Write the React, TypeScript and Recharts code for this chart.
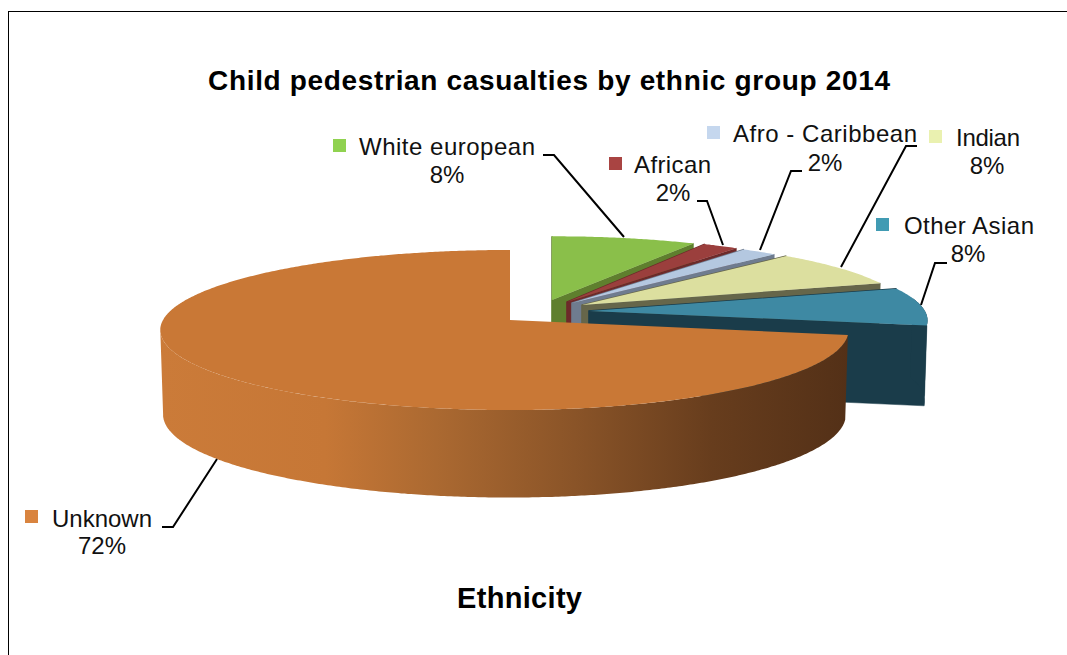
import { Pie, PieChart } from "recharts";

const categories = ["White european", "African", "Afro - Caribbean", "Indian", "Other Asian", "Unknown"];
const shares = [8, 2, 2, 8, 8, 72];

const topColors = ["#8abf4a", "#9b3f3d", "#b4c8e0", "#dcdf9f", "#3e89a3", "#c97836"];
const wallColors = ["#5f7f2e", "#6d2a2a", "#6f7c8f", "#66664a", "#1a3c4a", "url(#unknownWall)"];
const keyColors = ["#90d250", "#a94442", "#c5d7ee", "#eaf1b0", "#419bb3", "#d9843f"];

// how far each wedge is pulled out of the pie, and how much it shrinks towards the back
const wedges = [
  { dx: 42, dy: -20, sx: 0.97, sy: 0.91 },
  { dx: 57, dy: -18, sx: 0.945, sy: 0.93 },
  { dx: 62, dy: -17, sx: 0.96, sy: 0.925 },
  { dx: 72, dy: -15, sx: 0.97, sy: 0.93 },
  { dx: 79, dy: -9, sx: 1, sy: 0.95 },
  { dx: 0, dy: 0, sx: 1, sy: 1 },
];

// label placement: colour key, name (with its drawn width), percentage and leader line
const labels = [
  { key: [333, 139], name: [359, 155], width: 176, pct: [447, 183], leader: "543,155 554,155 624,237" },
  { key: [609, 157], name: [634, 173], width: 77, pct: [673, 201], leader: "697,201 707,201 723,245" },
  { key: [707, 126], name: [733, 142], width: 184, pct: [825, 171], leader: "802,171 791,171 760,250" },
  { key: [929, 130], name: [956, 146], width: 64, pct: [987, 174], leader: "917,146 906,146 841,267" },
  { key: [876, 218], name: [904, 234], width: 130, pct: [968, 262], leader: "947,263 935,263 921,305" },
  { key: [25, 510], name: [52, 527], width: 100, pct: [102, 554], leader: "162,527 173,527 217,459" },
];

const data = categories.map((name, i) => ({ name, value: shares[i], fill: topColors[i] }));

const FONT = '"Liberation Sans", Arial, sans-serif';
const TILT = 0.227; // vertical squash of the disc
const PERSPECTIVE = 0.125;
const RIGHT_SIDE = 0.968; // the right half sits a bit narrower than the left
const DEPTH = 84;
const BOTTOM_RIM = 0.992;

function WedgeShape(props: any) {
  const { cx, cy, outerRadius, startAngle, endAngle, index, fill } = props;
  const w = wedges[index];
  const ox = cx + w.dx;
  const oy = cy + w.dy;
  const depth = DEPTH * w.sy;

  // angle is degrees clockwise from 12 o'clock
  const rim = (deg: number, bottom = false) => {
    const t = (deg * Math.PI) / 180;
    const u = Math.sin(t);
    const v = Math.cos(t);
    const s = 1 / (1 + PERSPECTIVE * v);
    const side = u > 0 ? RIGHT_SIDE : 1;
    const x = outerRadius * u * s * side * w.sx;
    const y = -outerRadius * TILT * v * s * w.sy;
    return bottom ? [ox + x * BOTTOM_RIM, oy + y + depth - 3.5 * v] : [ox + x, oy + y];
  };

  const from = 90 - startAngle;
  const to = 90 - endAngle;
  const arc = (a: number, b: number, bottom = false) => {
    const pts: number[][] = [];
    const n = Math.max(2, Math.ceil(Math.abs(b - a) * 2));
    for (let i = 0; i <= n; i++) pts.push(rim(a + ((b - a) * i) / n, bottom));
    return pts;
  };
  const toPath = (pts: number[][]) =>
    "M" + pts.map((p) => `${p[0].toFixed(1)},${p[1].toFixed(1)}`).join("L") + "Z";

  const apex = [ox, oy];
  const apexLow = [ox, oy + depth];
  const wall = wallColors[index];

  // only the part of the rim that faces the viewer gets an outer wall,
  // up to where the disc's outline turns back on the left
  const frontFrom = Math.max(from, 80);
  const frontTo = Math.min(to, 263);

  return (
    <g>
      {index === 5 && (
        <defs>
          <linearGradient id="unknownWall" gradientUnits="userSpaceOnUse" x1={160} x2={850} y1={0} y2={0}>
            <stop offset="0%" stopColor="#cb7b39" />
            <stop offset="24%" stopColor="#c67736" />
            <stop offset="40%" stopColor="#ab6931" />
            <stop offset="60%" stopColor="#8a5428" />
            <stop offset="80%" stopColor="#673d1d" />
            <stop offset="100%" stopColor="#533017" />
          </linearGradient>
        </defs>
      )}
      {index !== 5 && (
        <path
          d={`M${rim(from)[0]},${rim(from)[1]}L${apex[0]},${apex[1]}L${apexLow[0]},${apexLow[1]}`}
          fill="none"
          stroke={wall}
          strokeWidth={1.5}
        />
      )}
      {index !== 5 && (
        <path d={toPath([apex, rim(to), rim(to, true), apexLow])} fill={wall} stroke={wall} strokeWidth={0.5} />
      )}
      {frontFrom < frontTo && (
        <path d={toPath([...arc(frontFrom, frontTo), ...arc(frontFrom, frontTo, true).reverse()])} fill={wall} />
      )}
      <path d={toPath([apex, ...arc(from, to)])} fill={fill} />
    </g>
  );
}

function WedgeLabel(props: any) {
  const { index, name, value } = props;
  const l = labels[index];
  return (
    <g fontFamily={FONT} fontSize={24} fill="#111">
      <polyline points={l.leader} fill="none" stroke="#000" strokeWidth={2} />
      <rect x={l.key[0]} y={l.key[1]} width={13} height={13} fill={keyColors[index]} />
      <text x={l.name[0]} y={l.name[1]} textLength={l.width} lengthAdjust="spacing">{name}</text>
      <text x={l.pct[0]} y={l.pct[1]} textAnchor="middle">{`${value}%`}</text>
    </g>
  );
}

export default function App() {
  return (
    <div style={{ position: "absolute", left: 0, top: 0, width: 1067, height: 655, background: "#fff", overflow: "hidden" }}>
      <div style={{ position: "absolute", left: 8, top: 11, width: 1059, height: 644, borderLeft: "1px solid #000", borderTop: "1px solid #000" }} />
      <div style={{ position: "absolute", left: 0, top: 0 }}>
        <PieChart width={1067} height={655} margin={{ top: 0, right: 0, bottom: 0, left: 0 }}>
          <Pie
            data={data}
            dataKey="value"
            nameKey="name"
            cx={510}
            cy={320}
            innerRadius={0}
            outerRadius={347}
            startAngle={90}
            endAngle={-270}
            stroke="none"
            shape={WedgeShape}
            label={WedgeLabel}
            labelLine={false}
            isAnimationActive={false}
          />
          <text x={208} y={90} textLength={682} lengthAdjust="spacing" fontFamily={FONT} fontSize={28} fontWeight="bold" fill="#000">
            Child pedestrian casualties by ethnic group 2014
          </text>
          <text x={457} y={608} textLength={125} lengthAdjust="spacing" fontFamily={FONT} fontSize={29} fontWeight="bold" fill="#000">
            Ethnicity
          </text>
        </PieChart>
      </div>
    </div>
  );
}
